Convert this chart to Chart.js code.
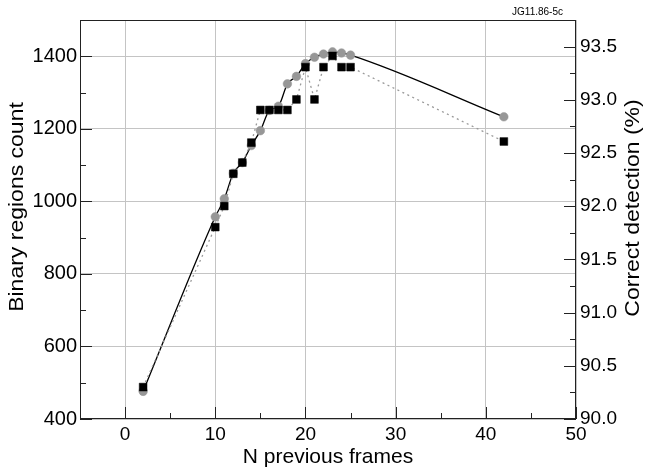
<!DOCTYPE html>
<html>
<head>
<meta charset="utf-8">
<script src="https://cdn.jsdelivr.net/npm/chart.js@4.4.0/dist/chart.umd.min.js"></script>
<style>
    html, body { margin: 0; padding: 0; background: #fff; }
    #caixa { width: 646px; height: 473px; }
</style>
</head>
<body>
<div id="caixa"><canvas id="grafico" width="646" height="473"></canvas></div>
<script>
var frames = [2, 10, 11, 12, 13, 14, 15, 16, 17, 18, 19, 20, 21, 22, 23, 24, 25, 42];
var regioes = [488, 929, 987, 1076, 1107, 1162, 1252, 1252, 1252, 1252, 1281, 1370, 1281, 1370, 1401, 1370, 1370, 1165];
var deteccao = [90.26, 91.90, 92.07, 92.31, 92.41, 92.57, 92.71, 92.90, 92.94, 93.15, 93.22, 93.34, 93.40, 93.43, 93.45, 93.44, 93.42, 92.84];

var xTicks = [0, 10, 20, 30, 40, 50];
var yTicks = [400, 600, 800, 1000, 1200, 1400];
var y1Ticks = [90.0, 90.5, 91.0, 91.5, 92.0, 92.5, 93.0, 93.5];

var fonte = "'Liberation Sans', Arial, sans-serif";
Chart.defaults.font.family = fonte;
Chart.defaults.color = '#000';

function fixarTicks(lista) {
    return function (scale) {
        scale.ticks = lista.map(function (v) { return { value: v }; });
    };
}

function tituloVertical(ctx, texto, x, y) {
    ctx.save();
    ctx.fillStyle = '#000';
    ctx.font = '23px ' + fonte;
    ctx.textAlign = 'center';
    ctx.textBaseline = 'middle';
    ctx.translate(x, y);
    ctx.rotate(-Math.PI / 2);
    ctx.scale(1, 0.88);
    ctx.fillText(texto, 0, 0);
    ctx.restore();
}

// moldura, tracinhos para dentro e textos extras
var moldura = {
    id: 'moldura',
    afterDraw: function (chart) {
        var ctx = chart.ctx;
        var a = chart.chartArea;
        var sx = chart.scales.x, sy = chart.scales.y, sy1 = chart.scales.y1;
        ctx.save();
        ctx.strokeStyle = '#222';
        ctx.lineWidth = 1;
        ctx.beginPath();
        xTicks.forEach(function (v, i) {
            var p = Math.round(sx.getPixelForValue(v)) + 0.5;
            ctx.moveTo(p, a.bottom); ctx.lineTo(p, a.bottom - 12);
            if (i < xTicks.length - 1) {
                var m = Math.round(sx.getPixelForValue(v + 5)) + 0.5;
                ctx.moveTo(m, a.bottom); ctx.lineTo(m, a.bottom - 6);
            }
        });
        yTicks.forEach(function (v) {
            var p = Math.round(sy.getPixelForValue(v)) + 0.5;
            ctx.moveTo(a.left, p); ctx.lineTo(a.left + 12, p);
            if (v + 100 < sy.max) {
                var m = Math.round(sy.getPixelForValue(v + 100)) + 0.5;
                ctx.moveTo(a.left, m); ctx.lineTo(a.left + 6, m);
            }
        });
        y1Ticks.forEach(function (v) {
            var p = Math.round(sy1.getPixelForValue(v)) + 0.5;
            ctx.moveTo(a.right, p); ctx.lineTo(a.right - 12, p);
            if (v + 0.25 < sy1.max) {
                var m = Math.round(sy1.getPixelForValue(v + 0.25)) + 0.5;
                ctx.moveTo(a.right, m); ctx.lineTo(a.right - 6, m);
            }
        });
        ctx.stroke();
        ctx.strokeRect(a.left + 0.5, a.top + 0.5, a.right - a.left - 1, a.bottom - a.top - 1);
        ctx.restore();

        tituloVertical(ctx, 'Binary regions count', 17, 207);
        tituloVertical(ctx, 'Correct detection (%)', 633, 208);

        ctx.save();
        ctx.fillStyle = '#000';
        ctx.font = '10px ' + fonte;
        ctx.textAlign = 'right';
        ctx.textBaseline = 'middle';
        ctx.fillText('JG11.86-5c', 563, 12);
        ctx.restore();
    }
};

var ctx = document.getElementById('grafico').getContext('2d');
var grafico = new Chart(ctx, {
    type: 'line',
    data: {
        labels: frames,
        datasets: [{
            label: 'Binary regions count',
            data: frames.map(function (f, i) { return { x: f, y: regioes[i] }; }),
            yAxisID: 'y',
            borderColor: '#9a9a9a',
            borderWidth: 1.3,
            borderDash: [2, 3.5],
            tension: 0,
            pointStyle: 'rect',
            pointRadius: 5.5,
            pointBackgroundColor: '#000',
            pointBorderColor: '#000',
            pointBorderWidth: 0.5
        }, {
            label: 'Correct detection (%)',
            data: frames.map(function (f, i) { return { x: f, y: deteccao[i] }; }),
            yAxisID: 'y1',
            borderColor: '#000',
            borderWidth: 1.3,
            cubicInterpolationMode: 'monotone',
            pointStyle: 'circle',
            pointRadius: 4.3,
            pointBackgroundColor: '#979797',
            pointBorderColor: '#979797',
            pointBorderWidth: 0.5
        }]
    },
    options: {
        responsive: false,
        animation: false,
        devicePixelRatio: 1,
        layout: { padding: { top: 20, left: 0, right: 0, bottom: 0 } },
        plugins: {
            legend: { display: false },
            tooltip: { enabled: false }
        },
        scales: {
            x: {
                type: 'linear',
                position: 'bottom',
                min: -5,
                max: 50,
                afterBuildTicks: fixarTicks(xTicks),
                afterFit: function (s) { s.height = 54; },
                grid: { color: '#c4c4c4', drawTicks: false },
                border: { display: false },
                ticks: { font: { size: 19 }, padding: 4, maxRotation: 0, autoSkip: false },
                title: { display: true, text: 'N previous frames', font: { size: 21 }, padding: { top: 0, bottom: 3 } }
            },
            y: {
                position: 'left',
                min: 400,
                max: 1500,
                afterBuildTicks: fixarTicks(yTicks),
                afterFit: function (s) { s.width = 80; },
                grid: { color: '#c4c4c4', drawTicks: false },
                border: { display: false },
                ticks: {
                    font: { size: 20 },
                    padding: 3,
                    autoSkip: false,
                    callback: function (v) { return String(v); }
                }
            },
            y1: {
                position: 'right',
                min: 90,
                max: 93.75,
                afterBuildTicks: fixarTicks(y1Ticks),
                afterFit: function (s) { s.width = 70; },
                grid: { display: false, drawTicks: false },
                border: { display: false },
                ticks: {
                    font: { size: 19 },
                    padding: 4,
                    autoSkip: false,
                    callback: function (v) { return Number(v).toFixed(1); }
                }
            }
        }
    },
    plugins: [moldura]
});
</script>
</body>
</html>
